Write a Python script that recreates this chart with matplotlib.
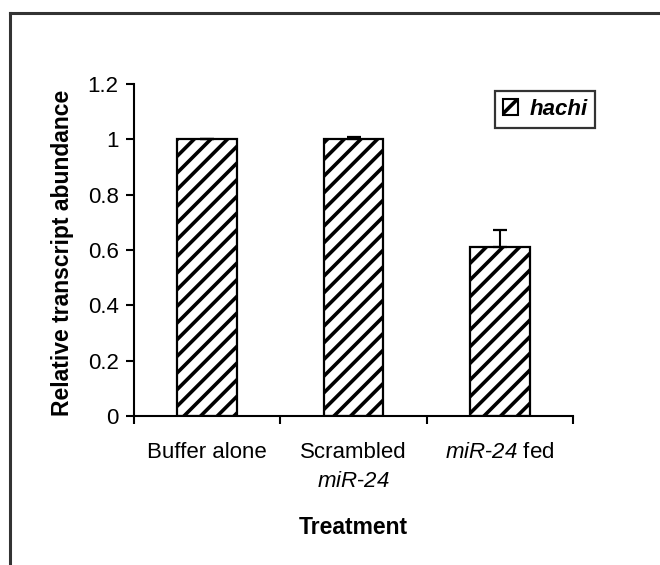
import matplotlib
matplotlib.use("Agg")
import matplotlib.pyplot as plt
from matplotlib.patches import Patch
from matplotlib.lines import Line2D

plt.rcParams['font.family'] = ['Liberation Sans', 'DejaVu Sans']
plt.rcParams['mathtext.fontset'] = 'custom'
plt.rcParams['mathtext.it'] = 'Liberation Sans:italic'
plt.rcParams['mathtext.rm'] = 'Liberation Sans:italic'
plt.rcParams['mathtext.default'] = 'rm'
plt.rcParams['hatch.linewidth'] = 2.6

categories = ["Buffer alone", "Scrambled\n$miR$-$24$", "$miR$-$24$ fed"]
values = [1.0, 1.0, 0.61]
err_up = [0.0, 0.008, 0.062]
yticks = [0, 0.2, 0.4, 0.6, 0.8, 1.0, 1.2]
yticklabels = ["0", "0.2", "0.4", "0.6", "0.8", "1", "1.2"]
series_name = "hachi"

W, H = 660, 565
fig = plt.figure(figsize=(6.6, 5.65), dpi=100)
ax = fig.add_axes([134 / W, 1 - 416 / H, (573 - 134) / W, (416 - 84) / H])

x = list(range(len(categories)))
ax.bar(x, values, width=0.41, color='white', edgecolor='black', linewidth=1.6,
       hatch='//', zorder=2)
ax.errorbar(x, values, yerr=[[0] * len(values), err_up], fmt='none',
            ecolor='black', elinewidth=1.5, capsize=5, capthick=1.6, zorder=3)

ax.set_xlim(-0.5, len(categories) - 0.5)
ax.set_ylim(0, 1.2)
ax.set_yticks(yticks)
ax.set_yticklabels(yticklabels, fontsize=16)
ax.set_xticks([i - 0.5 for i in range(len(categories) + 1)])
ax.set_xticklabels([])
ax.set_xticks(x, minor=True)
ax.set_xticklabels(categories, minor=True, fontsize=16, linespacing=1.45)
ax.tick_params(axis='x', which='major', direction='out', length=6, width=1.5)
ax.tick_params(axis='x', which='minor', length=0, pad=19)
ax.tick_params(axis='y', direction='out', length=6, width=1.5, pad=5)

for s in ['top', 'right']:
    ax.spines[s].set_visible(False)
for s in ['left', 'bottom']:
    ax.spines[s].set_linewidth(1.5)

fig.text(63 / W, 1 - 253 / H, "Relative transcript abundance", fontsize=16.5,
         fontweight='bold', rotation=90, ha='center', va='center')
fig.text(353.5 / W, 1 - 527 / H, "Treatment", fontsize=16.5, fontweight='bold',
         ha='center', va='center')

handle = Patch(facecolor='white', edgecolor='black', hatch='//', linewidth=1.5)
leg = fig.legend([handle], [series_name], loc='upper left',
                 bbox_to_anchor=(495 / W, 1 - 91 / H), frameon=True, fancybox=False,
                 handlelength=0.7, handleheight=0.7, handletextpad=0.5,
                 borderpad=0.35, borderaxespad=0,
                 prop={'family': 'Liberation Sans', 'weight': 'bold', 'style': 'italic', 'size': 16})
leg.get_frame().set_edgecolor('black')
leg.get_frame().set_linewidth(1.6)

# outer frame (left and top edges visible)
fig.add_artist(Line2D([10 / W, 10 / W], [0, 1 - 13 / H], color='#333333', linewidth=2.2))
fig.add_artist(Line2D([10 / W, 1], [1 - 13 / H, 1 - 13 / H], color='#333333', linewidth=2.2))

fig.savefig("out.png", dpi=100)
